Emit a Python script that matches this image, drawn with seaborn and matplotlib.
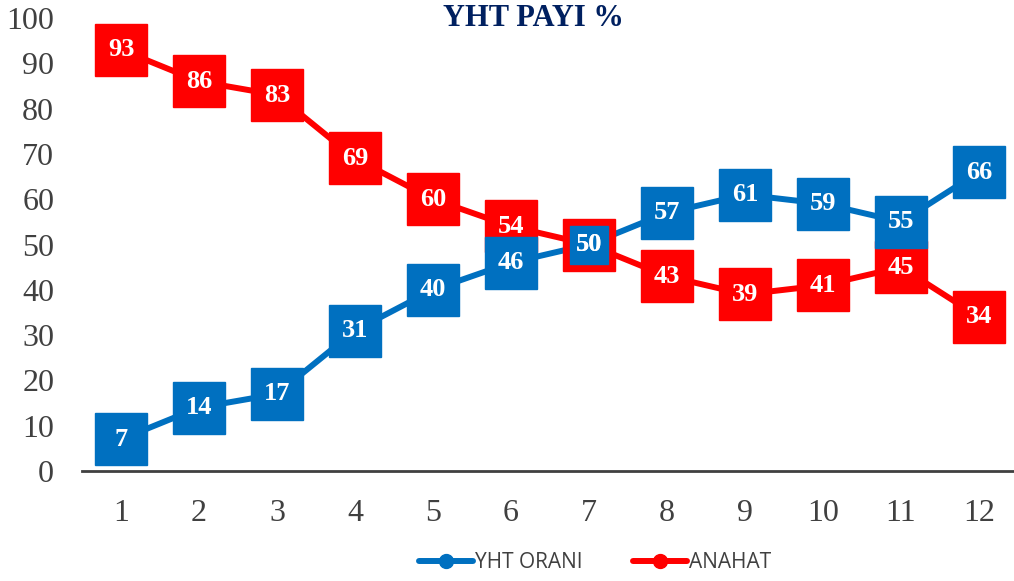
import seaborn as sns
from matplotlib import pyplot as plt
from matplotlib.lines import Line2D
import pandas as pd
import numpy as np

# data
months = [1, 2, 3, 4, 5, 6, 7, 8, 9, 10, 11, 12]
yht_orani = [7, 14, 17, 31, 40, 46, 50, 57, 61, 59, 55, 66]
anahat = [93, 86, 83, 69, 60, 54, 50, 43, 39, 41, 45, 34]

BLUE = '#0070C0'
RED = '#FF0000'
GREY = '#404040'

sns.set_style("white")
plt.rcParams['font.family'] = ['Liberation Serif', 'DejaVu Serif']

df = pd.DataFrame({'ay': months, 'YHT ORANI': yht_orani, 'ANAHAT': anahat})
long_df = df.melt(id_vars='ay', var_name='seri', value_name='pay')

fig = plt.figure(figsize=(10.14, 5.81), dpi=100)
ax = fig.add_axes([82 / 1014, 110 / 581, (1018 - 82) / 1014, 453 / 581])

# lines with small circle markers underneath the label boxes
sns.lineplot(data=long_df, x='ay', y='pay', hue='seri',
             palette={'YHT ORANI': BLUE, 'ANAHAT': RED},
             marker='o', markersize=11, markeredgewidth=0,
             linewidth=4.3, legend=False, ax=ax, zorder=2)

# label boxes: red first, blue on top (blue shrinks where both series meet)
same = np.array(yht_orani) == np.array(anahat)
ax.plot(df['ay'], df['ANAHAT'], ls='none', marker='s', markersize=37,
        markerfacecolor=RED, markeredgecolor=RED, markeredgewidth=1, zorder=3)
blue_sizes = np.where(same, 27, 37)
for x, y, s in zip(df['ay'], df['YHT ORANI'], blue_sizes):
    ax.plot(x, y, ls='none', marker='s', markersize=s,
            markerfacecolor=BLUE, markeredgecolor=BLUE, markeredgewidth=1, zorder=4)

for x, y in zip(df['ay'], df['ANAHAT']):
    ax.text(x, y, f'{y}', ha='center', va='center', color='white',
            fontsize=19, fontweight='bold', zorder=5)
for x, y in zip(df['ay'], df['YHT ORANI']):
    ax.text(x, y, f'{y}', ha='center', va='center', color='white',
            fontsize=19, fontweight='bold', zorder=6)

# axes styling
ax.set_xlim(0.5, 12.5)
ax.set_ylim(0, 100)
ax.set_yticks(range(0, 101, 10))
ax.set_xticks(months)
ax.set_xticks(np.arange(0.5, 13, 1), minor=True)
ax.tick_params(axis='x', which='major', length=0, pad=20, labelsize=23, labelcolor=GREY)
ax.tick_params(axis='x', which='minor', length=8, width=2, color=GREY, direction='out')
ax.tick_params(axis='y', length=0, pad=20, labelsize=23, labelcolor=GREY)
ax.set_xlabel('')
ax.set_ylabel('')
for side in ['left', 'right', 'top']:
    ax.spines[side].set_visible(False)
ax.spines['bottom'].set_color(GREY)
ax.spines['bottom'].set_linewidth(2)
ax.grid(False)

fig.text(533 / 1014, 562 / 581, 'YHT PAYI %', ha='center', va='center',
         fontsize=22, fontweight='bold', color='#002060')

handles = [Line2D([], [], color=BLUE, lw=4.3, marker='o', markersize=10),
           Line2D([], [], color=RED, lw=4.3, marker='o', markersize=10)]
leg = fig.legend(handles, ['YHT ORANI', 'ANAHAT'], loc='center',
                 bbox_to_anchor=(595 / 1014, 18 / 581), ncol=2, frameon=False,
                 handlelength=2.6, handletextpad=0.1, columnspacing=2.4,
                 prop={'family': 'Open Sans', 'size': 15})
for t in leg.get_texts():
    t.set_color(GREY)

plt.savefig('out.png', dpi=100)
